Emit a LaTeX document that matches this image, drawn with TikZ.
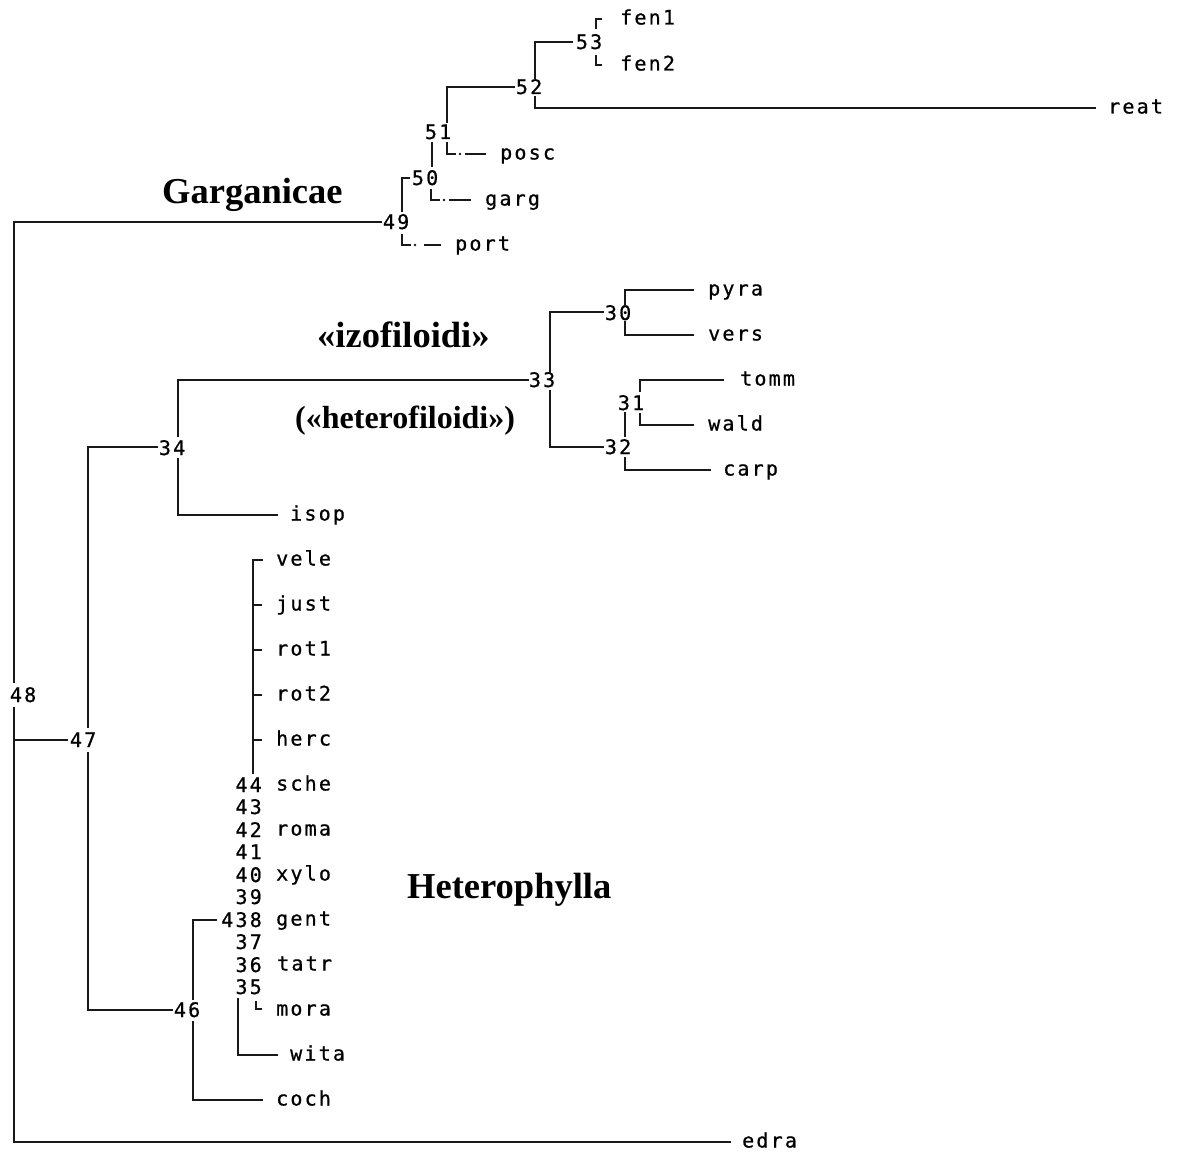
\documentclass[tikz,border=0pt]{standalone}
\usepackage{fontspec}
\newfontfamily\monofam[LetterSpace=11,FakeBold=0.8]{DejaVu Sans Mono}
\newfontfamily\serifbfam{Liberation Serif}
\newcommand\lfont{\fontsize{20}{22}\selectfont\monofam}
\newcommand\gfont{\fontsize{36.5}{40}\selectfont\serifbfam\bfseries}
\newcommand\hfont{\fontsize{32}{36}\selectfont\serifbfam\bfseries}
\tikzset{
  br/.style={line width=2.4pt, black!90, line cap=rect},
  leaf/.style={font=\lfont, inner sep=0pt, anchor=base west, yshift=-5.5pt},
  num/.style={font=\lfont, inner sep=0pt, anchor=base, yshift=-7pt, xshift=1.1pt},
  numr/.style={font=\lfont, inner sep=0pt, anchor=base east, yshift=-7pt},
  grp/.style={font=\gfont, inner sep=0pt, anchor=base west},
  dot/.style={fill=black!90}
}
\begin{document}
\begin{tikzpicture}[x=1pt,y=-1pt]
\useasboundingbox (0,0) rectangle (1178,1153);
% ---------- number nodes ----------
\node[num] (n53) at (588,42) {53};
\node[num] (n52) at (528,87) {52};
\node[num] (n51) at (437,132) {51};
\node[num] (n50) at (424,178) {50};
\node[num] (n49) at (395,222) {49};
\node[num] (n30) at (617,313) {30};
\node[num] (n31) at (630,403) {31};
\node[num] (n32) at (617,447) {32};
\node[num] (n33) at (541,380) {33};
\node[num] (n34) at (171,448) {34};
\node[num] (n46) at (186,1010) {46};
\node[num] (n47) at (82,740) {47};
\node[num] (n48) at (22,695) {48};
\node[numr] (n44) at (262,785) {44};
\node[numr] (n43) at (262,807) {43};
\node[numr] (n42) at (262,830) {42};
\node[numr] (n41) at (262,852) {41};
\node[numr] (n40) at (262,875) {40};
\node[numr] (n39) at (262,897) {39};
\node[numr] (n438) at (262,920) {438};
\node[numr] (n37) at (262,942) {37};
\node[numr] (n36) at (262,965) {36};
\node[numr] (n35) at (262,987) {35};
% ---------- leaves ----------
\node[leaf] (fen1) at (620,19) {fen1};
\node[leaf] (fen2) at (620,65) {fen2};
\node[leaf] (reat) at (1108,108) {reat};
\node[leaf] (posc) at (500,154) {posc};
\node[leaf] (garg) at (485,200) {garg};
\node[leaf] (port) at (455,245) {port};
\node[leaf] (pyra) at (708,290) {pyra};
\node[leaf] (vers) at (708,335) {vers};
\node[leaf] (tomm) at (740,380) {tomm};
\node[leaf] (wald) at (708,425) {wald};
\node[leaf] (carp) at (723,470) {carp};
\node[leaf] (isop) at (290,515) {isop};
\node[leaf] (vele) at (276,560) {vele};
\node[leaf] (just) at (276,605) {just};
\node[leaf] (rot1) at (276,650) {rot1};
\node[leaf] (rot2) at (276,695) {rot2};
\node[leaf] (herc) at (276,740) {herc};
\node[leaf] (sche) at (276,785) {sche};
\node[leaf] (roma) at (276,830) {roma};
\node[leaf] (xylo) at (276,875) {xylo};
\node[leaf] (gent) at (276,920) {gent};
\node[leaf] (tatr) at (277,965) {tatr};
\node[leaf] (mora) at (276,1010) {mora};
\node[leaf] (wita) at (290,1055) {wita};
\node[leaf] (coch) at (276,1100) {coch};
\node[leaf] (edra) at (742,1142) {edra};
% ---------- group labels ----------
\node[grp] (gGar) at (162,203) {Garganicae};
\node[grp] (gIzo) at (317,347) {«izofiloidi»};
\node[grp, font=\hfont] (gHet) at (295,428) {(«heterofiloidi»)};
\node[grp] (gPhy) at (407,898) {Heterophylla};
% ---------- connectors ----------
% root 48
\coordinate (e49) at (381,222);
\draw[br] (e49) -- (14,222) -- (14,682);
\draw[br] (14,708) -- (14,1142) -- (730,1142);
\draw[br] (14,740) -- (67,740);
% 47
\draw[br] (157,447) -- (88,447) -- (88,727);
\draw[br] (88,753) -- (88,1010) -- (172,1010);
% 34
\draw[br] (528,380) -- (178,380) -- (178,436);
\draw[br] (178,459) -- (178,515) -- (277,515);
% 33
\draw[br] (550,372) -- (550,312) -- (603,312);
\draw[br] (550,391) -- (550,447) -- (603,447);
% 30
\draw[br] (625,305) -- (625,290) -- (693,290);
\draw[br] (625,322) -- (625,335) -- (693,335);
% 32 / 31
\draw[br] (625,413) -- (625,436);
\draw[br] (625,458) -- (625,470) -- (710,470);
\draw[br] (640,391) -- (640,380) -- (723,380);
\draw[br] (640,414) -- (640,425) -- (693,425);
% 49
\draw[br] (402,211) -- (402,178) -- (409,178);
\draw[br] (402,235) -- (402,245) -- (410,245);
\fill[dot] (415,245) circle (1.3pt);
\draw[br] (425,245) -- (440,245);
% 50
\draw[br] (432,166) -- (432,143);
\draw[br] (431,190) -- (431,200) -- (439,200);
\fill[dot] (444,200) circle (1.3pt);
\draw[br] (450,200) -- (470,200);
% 51
\draw[br] (447,122) -- (447,87) -- (514,87);
\draw[br] (447,143) -- (447,154) -- (455,154);
\fill[dot] (460,154) circle (1.3pt);
\draw[br] (466,154) -- (485,154);
% 52
\draw[br] (535,78) -- (535,42) -- (572,42);
\draw[br] (535,97) -- (535,108) -- (1095,108);
% 53
\draw[br] (601,19) -- (596,19) -- (596,28);
\draw[br] (596,56) -- (596,65) -- (601,65);
% comb 44
\draw[br] (253,560) -- (253,773);
\draw[br] (253,560) -- (262,560);
\foreach \yy in {605,650,695,740} \draw[br] (253,\yy) -- (261,\yy);
% 46
\draw[br] (193,999) -- (193,920) -- (216,920);
\draw[br] (193,1022) -- (193,1100) -- (262,1100);
% 35
\draw[br] (238,999) -- (238,1055) -- (277,1055);
\draw[br] (256,1002) -- (256,1009) -- (261,1009);
\end{tikzpicture}
\end{document}
